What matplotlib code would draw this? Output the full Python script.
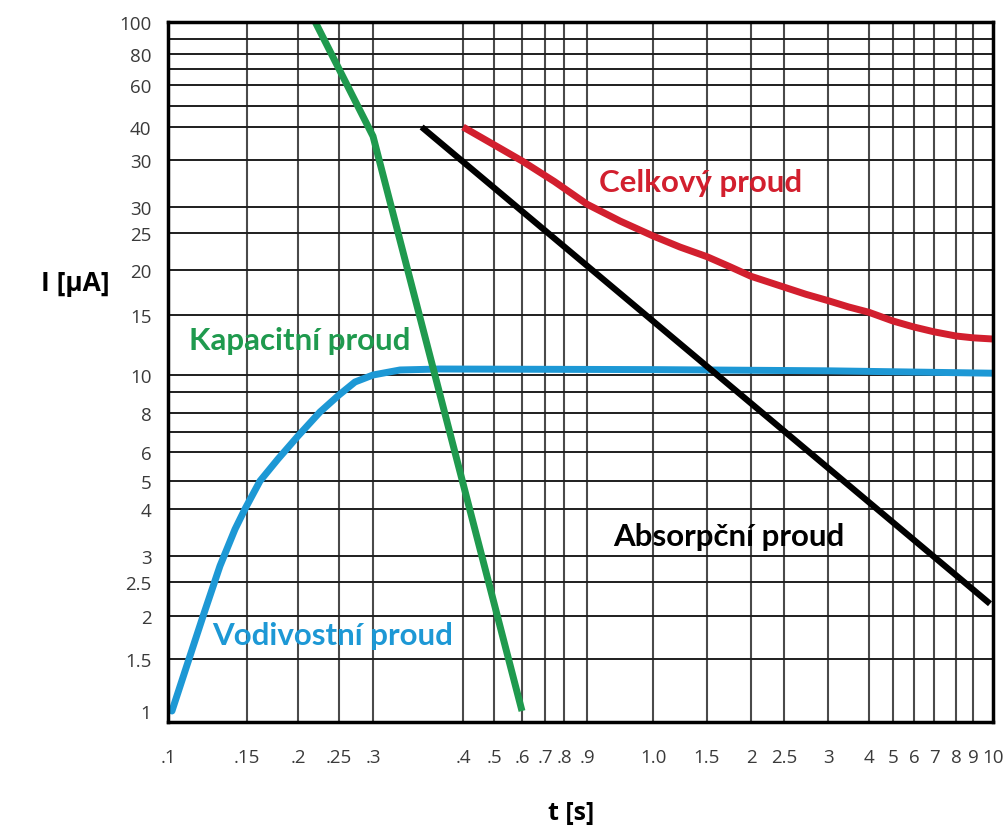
import numpy as np
import matplotlib
matplotlib.use("Agg")
import matplotlib.pyplot as plt

# ---------------- data ----------------
# x axis (t [s]) : gridline values and tick labels
x_grid_vals = [0.1, 0.15, 0.2, 0.25, 0.3, 0.4, 0.5, 0.6, 0.7, 0.8, 0.9, 1.0,
               1.5, 2, 2.5, 3, 4, 5, 6, 7, 8, 9, 10]
x_tick_labels = [".1", ".15", ".2", ".25", ".3", ".4", ".5", ".6", ".7", ".8", ".9",
                 "1.0", "1.5", "2", "2.5", "3", "4", "5", "6", "7", "8", "9", "10"]
# y axis (I [uA]) : gridline values, tick values and labels (as printed)
y_grid_vals = [1.5, 2, 2.5, 3, 4, 5, 6, 7, 8, 9, 10, 15, 20, 25, 30, 35, 40, 50,
               60, 70, 80, 90, 100]
y_tick_vals = [1, 1.5, 2, 2.5, 3, 4, 5, 6, 8, 10, 15, 20, 25, 30, 35, 40, 60, 80, 100]
y_tick_labels = ["1", "1.5", "2", "2.5", "3", "4", "5", "6", "8", "10", "15", "20",
                 "25", "30", "30", "40", "60", "80", "100"]

# curves
t_kapacitni = [0.221, 0.3, 0.6]
i_kapacitni = [100, 38.6, 1.0]

t_vodivostni = [0.1025, 0.1108, 0.1222, 0.1329, 0.1424, 0.1487, 0.1627, 0.1804,
                0.2, 0.2268, 0.25, 0.2735, 0.3, 0.33, 0.374, 1.0, 3.0, 10.0]
i_vodivostni = [1.0, 1.385, 2.0, 2.81, 3.57, 4.0, 5.0, 5.76,
                6.8, 8.05, 8.86, 9.59, 10.0, 10.42, 10.5, 10.45, 10.35, 10.15]

t_absorpcni = [0.354, 9.85]
i_absorpcni = [40, 2.18]

t_celkovy = [0.4, 0.5, 0.6, 0.75, 0.9, 0.95, 1.0, 1.25, 1.5, 1.75, 2, 2.25, 2.5,
             2.75, 3, 3.5, 4, 5, 6, 7, 8, 9, 10]
i_celkovy = [40, 37.3, 34.9, 32.7, 30.3, 27.3, 24.6, 23.1, 21.8, 20.5, 19.3, 18.7,
             18.1, 17.3, 16.6, 15.9, 15.3, 14.5, 14.0, 13.6, 13.25, 13.1, 13.0]

# ---------------- axis scale (hand-drawn, non-uniform) ----------------
# breakpoints: value -> fraction along the axis
x_scale_vals = x_grid_vals
x_scale_frac = [0.0, 0.0958, 0.1576, 0.2073, 0.2485, 0.3576, 0.3952, 0.4291, 0.4570,
                0.48, 0.5079, 0.5879, 0.6533, 0.7067, 0.7467, 0.8, 0.8497, 0.8788,
                0.9042, 0.9285, 0.9552, 0.9758, 1.0]
y_scale_vals = [0.9, 1, 1.5, 2, 2.5, 3, 4, 5, 6, 7, 8, 9, 10, 15, 20, 25, 30, 35, 40,
                50, 60, 70, 80, 90, 100]
y_scale_frac = [0.0, 0.0157, 0.09, 0.1514, 0.2, 0.2371, 0.3043, 0.3443, 0.3857,
                0.4143, 0.4414, 0.4714, 0.4957, 0.5814, 0.6457, 0.6986, 0.7357,
                0.8029, 0.85, 0.88, 0.91, 0.9329, 0.9543, 0.9757, 1.0]


def make_funcs(vals, fracs):
    v = np.asarray(vals, float)
    f = np.asarray(fracs, float)

    def fwd(a):
        return np.interp(np.asarray(a, float), v, f, left=f[0] - 1e-3, right=f[-1] + 1e-3)

    def inv(a):
        return np.interp(np.asarray(a, float), f, v)
    return fwd, inv


GREEN = "#1f9a4e"
BLUE = "#1d98d5"
RED = "#d21f2e"
BLACK = "#000000"

fig = plt.figure(figsize=(10.05, 8.29), dpi=100)
ax = fig.add_axes([168 / 1005, 1 - 723 / 829, 825 / 1005, 700 / 829])

ax.set_xscale("function", functions=make_funcs(x_scale_vals, x_scale_frac))
ax.set_yscale("function", functions=make_funcs(y_scale_vals, y_scale_frac))
ax.set_xlim(0.1, 10)
ax.set_ylim(0.9, 100)

# grid
for xv in x_grid_vals[1:-1]:
    ax.axvline(xv, color="#4a4a4a", lw=1.5, zorder=1)
for yv in y_grid_vals[:-1]:
    ax.axhline(yv, color="#1e1e1e", lw=1.4, zorder=1)

# curves
ax.plot(t_vodivostni, i_vodivostni, color=BLUE, lw=5, solid_capstyle="round",
        solid_joinstyle="round", zorder=3)
ax.plot(t_kapacitni, i_kapacitni, color=GREEN, lw=5, solid_capstyle="butt",
        solid_joinstyle="round", zorder=4)
ax.plot(t_absorpcni, i_absorpcni, color=BLACK, lw=4.5, solid_capstyle="butt", zorder=3)
ax.plot(t_celkovy, i_celkovy, color=RED, lw=5, solid_capstyle="butt",
        solid_joinstyle="round", zorder=3)

# ticks
ax.set_xticks(x_grid_vals)
ax.set_xticklabels(x_tick_labels)
ax.set_yticks(y_tick_vals)
ax.set_yticklabels(y_tick_labels)
ax.minorticks_off()
ax.tick_params(axis="both", length=0, labelsize=13.5, colors="#3a3a3a")
ax.tick_params(axis="x", pad=19)
ax.tick_params(axis="y", pad=12)
for lab in ax.get_xticklabels() + ax.get_yticklabels():
    lab.set_fontfamily("Open Sans")

for s in ax.spines.values():
    s.set_linewidth(2.5)
    s.set_color("black")
    s.set_zorder(5)

# curve labels
lbl = dict(transform=ax.transAxes, ha="center", va="center", fontsize=22.5,
           fontweight="bold", family="Lato")
ax.text(0.160, 0.546, "Kapacitní proud", color=GREEN, **lbl)
ax.text(0.200, 0.124, "Vodivostní proud", color=BLUE, **lbl)
ax.text(0.680, 0.266, "Absorpční proud", color=BLACK, **lbl)
ax.text(0.645, 0.771, "Celkový proud", color=RED, **lbl)

fig.text(0.0746, 0.6586, "I [µA]", ha="center", va="center", fontsize=19,
         fontweight="bold", family="Open Sans")
fig.text(0.568, 0.004, "t [s]", ha="center", va="bottom", fontsize=18,
         fontweight="bold", family="Open Sans")

fig.savefig("out.png", dpi=100)
